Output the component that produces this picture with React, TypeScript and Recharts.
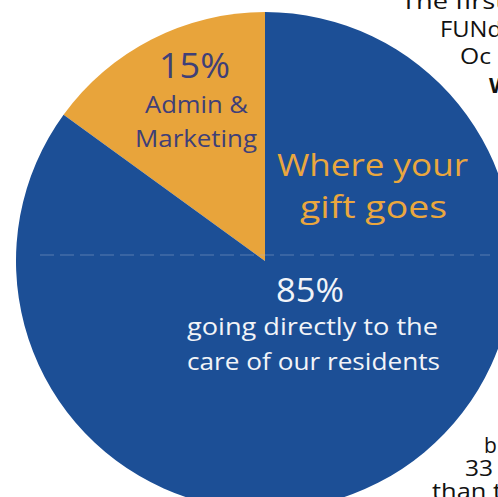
import { PieChart, Pie, Cell } from "recharts";

const categories = ["Admin & Marketing", "Care of our residents"];
const shares = [15, 85];
const colors = ["#e8a43b", "#1c4f96"];

const data = categories.map((name, i) => ({ name, value: shares[i] }));

const font = "'Open Sans', 'Noto Sans', sans-serif";

export default function App() {
  return (
    <div style={{ position: "absolute", left: 0, top: 0, width: 498, height: 497, background: "#fff", overflow: "hidden" }}>
      <PieChart width={498} height={497} margin={{ top: 0, right: 0, bottom: 0, left: 0 }}>
        <Pie
          data={data}
          dataKey="value"
          nameKey="name"
          cx={265}
          cy={261}
          outerRadius={249}
          startAngle={90}
          endAngle={450}
          stroke="none"
          isAnimationActive={false}
        >
          {data.map((d, i) => (
            <Cell key={`cell-${i}`} fill={colors[i]} />
          ))}
        </Pie>
      </PieChart>

      {/* labels drawn on top of the pie */}
      <svg width={498} height={497} style={{ position: "absolute", left: 0, top: 0, pointerEvents: "none" }}>
        <line x1={40} y1={255} x2={490} y2={255} stroke="#9fb3d2" strokeOpacity={0.3} strokeDasharray="14 6" strokeWidth={1.5} />

        <text x={194.5} y={78} textAnchor="middle" fontFamily={font} fontSize={35} fill="#3f3f78" textLength={71} lengthAdjust="spacingAndGlyphs">15%</text>
        <text x={196.5} y={113} textAnchor="middle" fontFamily={font} fontSize={24} fill="#3f3f78" textLength={103} lengthAdjust="spacingAndGlyphs">Admin &amp;</text>
        <text x={196} y={147} textAnchor="middle" fontFamily={font} fontSize={24} fill="#3f3f78" textLength={122} lengthAdjust="spacingAndGlyphs">Marketing</text>

        <text x={372.5} y={176} textAnchor="middle" fontFamily={font} fontSize={31} fill="#eaa73e" textLength={191} lengthAdjust="spacingAndGlyphs">Where your</text>
        <text x={373.5} y={218} textAnchor="middle" fontFamily={font} fontSize={31} fill="#eaa73e" textLength={147} lengthAdjust="spacingAndGlyphs">gift goes</text>

        <text x={310} y={302} textAnchor="middle" fontFamily={font} fontSize={32} fill="#f2f4f8" textLength={68} lengthAdjust="spacingAndGlyphs">85%</text>
        <text x={312.5} y={335} textAnchor="middle" fontFamily={font} fontSize={23} fill="#f2f4f8" textLength={251} lengthAdjust="spacingAndGlyphs">going directly to the</text>
        <text x={313.5} y={370} textAnchor="middle" fontFamily={font} fontSize={23} fill="#f2f4f8" textLength={253} lengthAdjust="spacingAndGlyphs">care of our residents</text>

        <text x={401} y={9} fontFamily={font} fontSize={21} fill="#111" textLength={104} lengthAdjust="spacingAndGlyphs">The first</text>
        <text x={440} y={37} fontFamily={font} fontSize={21} fill="#111" textLength={62} lengthAdjust="spacingAndGlyphs">FUNd</text>
        <text x={460} y={64} fontFamily={font} fontSize={21} fill="#111" textLength={31} lengthAdjust="spacingAndGlyphs">Oc</text>
        <text x={489} y={93} fontFamily={font} fontSize={22} fontWeight="bold" fill="#111">W</text>
        <text x={484} y={453} fontFamily={font} fontSize={21} fill="#111">b</text>
        <text x={465} y={476} fontFamily={font} fontSize={21} fill="#111" textLength={28} lengthAdjust="spacingAndGlyphs">33</text>
        <text x={432} y={499} fontFamily={font} fontSize={21} fill="#111" textLength={70} lengthAdjust="spacingAndGlyphs">than t</text>
      </svg>
    </div>
  );
}
